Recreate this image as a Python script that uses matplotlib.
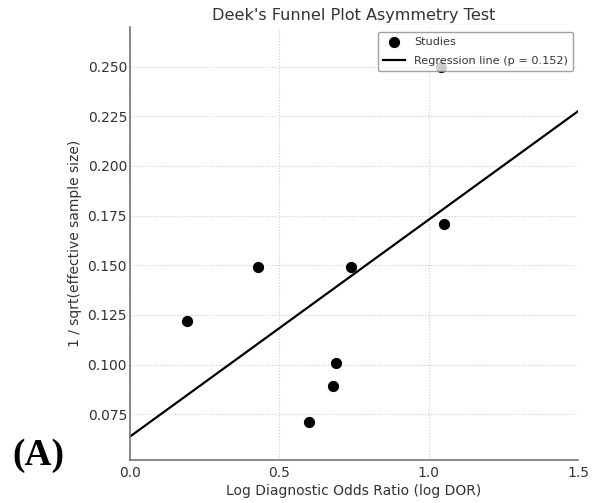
import numpy as np
import matplotlib
matplotlib.use("Agg")
import matplotlib.pyplot as plt

# log DOR vs 1/sqrt(ESS) per study
log_dor = [0.19, 0.43, 0.60, 0.68, 0.69, 0.74, 1.04, 1.05]
inv_sqrt_ess = [0.122, 0.149, 0.071, 0.089, 0.101, 0.149, 0.250, 0.171]
p_value = 0.152

slope, intercept = np.polyfit(log_dor, inv_sqrt_ess, 1)
x_line = np.linspace(0, 1.5, 100)
y_line = intercept + slope * x_line

fig = plt.figure(figsize=(5.93, 5.03), dpi=100)
ax = fig.add_axes([0.219, 0.0855, 0.756, 0.861])

ax.scatter(log_dor, inv_sqrt_ess, color="black", s=50, zorder=3, label="Studies")
ax.plot(x_line, y_line, color="black", lw=1.6, label=f"Regression line (p = {p_value})")

ax.set_xlim(0, 1.5)
ax.set_ylim(0.052, 0.27)
ax.set_xticks([0.0, 0.5, 1.0, 1.5])
yt = np.arange(0.075, 0.251, 0.025)
ax.set_yticks(yt)
ax.set_yticklabels([f"{v:.3f}" for v in yt])

ax.grid(True, linestyle=":", color="#cccccc", lw=0.8)
ax.spines["top"].set_visible(False)
ax.spines["right"].set_visible(False)
for s in ["left", "bottom"]:
    ax.spines[s].set_color("#777777")
    ax.spines[s].set_linewidth(1.2)
ax.tick_params(length=0, labelsize=10, labelcolor="#333333")
ax.tick_params(axis="x", pad=4.5)
ax.tick_params(axis="y", pad=2)

ax.set_title("Deek's Funnel Plot Asymmetry Test", fontsize=11.6, color="#333333", pad=5)
ax.set_xlabel("Log Diagnostic Odds Ratio (log DOR)", fontsize=10, color="#333333", labelpad=3)
ax.set_ylabel("1 / sqrt(effective sample size)", fontsize=10, color="#333333")

leg = ax.legend(loc="upper right", fontsize=8.1, frameon=True, borderaxespad=0.45,
                labelspacing=0.8, borderpad=0.45)
leg.get_frame().set_edgecolor("#888888")
for t in leg.get_texts():
    t.set_color("#333333")

fig.text(0.065, 0.095, "(A)", fontsize=27, fontweight="bold",
         family="Liberation Serif", ha="center", va="center")

fig.savefig("out.png", dpi=100)
